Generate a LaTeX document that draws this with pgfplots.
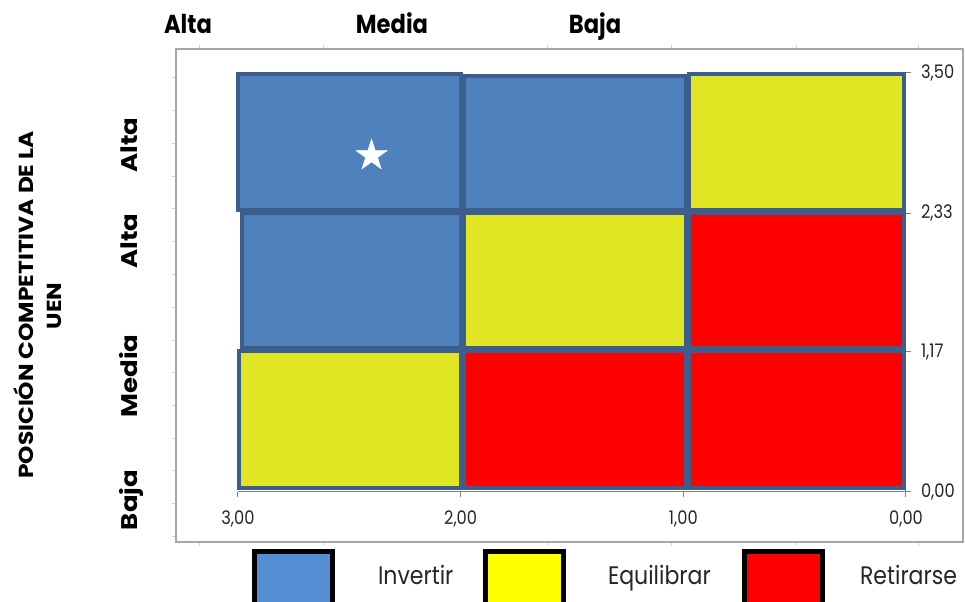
\documentclass[border=0pt]{standalone}
\usepackage{fontspec}
\setmainfont{Poppins}
\newfontfamily\sq[FakeStretch=0.87]{Poppins}
\usepackage{graphicx}
\usepackage{pgfplots}
\pgfplotsset{compat=1.18}

\definecolor{cblue}{HTML}{4F81BD}
\definecolor{cyel}{HTML}{E1E524}
\definecolor{cred}{HTML}{FF0000}
\definecolor{cbord}{HTML}{3B5E8C}
\definecolor{lblue}{HTML}{558ED5}
\definecolor{lyel}{HTML}{FFFF00}
\definecolor{framegray}{HTML}{A6A6A6}

\pgfdeclareplotmark{fstar}{%
\pgfpathmoveto{\pgfpoint{0pt}{\pgfplotmarksize}}%
\pgfpathlineto{\pgfpoint{0.225\pgfplotmarksize}{0.309\pgfplotmarksize}}%
\pgfpathlineto{\pgfpoint{0.951\pgfplotmarksize}{0.309\pgfplotmarksize}}%
\pgfpathlineto{\pgfpoint{0.363\pgfplotmarksize}{-0.118\pgfplotmarksize}}%
\pgfpathlineto{\pgfpoint{0.588\pgfplotmarksize}{-0.809\pgfplotmarksize}}%
\pgfpathlineto{\pgfpoint{0pt}{-0.382\pgfplotmarksize}}%
\pgfpathlineto{\pgfpoint{-0.588\pgfplotmarksize}{-0.809\pgfplotmarksize}}%
\pgfpathlineto{\pgfpoint{-0.363\pgfplotmarksize}{-0.118\pgfplotmarksize}}%
\pgfpathlineto{\pgfpoint{-0.951\pgfplotmarksize}{0.309\pgfplotmarksize}}%
\pgfpathlineto{\pgfpoint{-0.225\pgfplotmarksize}{0.309\pgfplotmarksize}}%
\pgfpathclose
\pgfusepathqfillstroke}

\pgfplotsset{cell/.style={forget plot, draw=cbord, line width=3pt, line join=miter, line cap=rect}}

\begin{document}
\begin{tikzpicture}
\path[use as bounding box] (0,0) rectangle (723.75pt,451.5pt);

% outer frame
\begin{axis}[at={(132pt,45pt)}, anchor=south west, scale only axis,
  width=590.25pt, height=369.75pt,
  xmin=176, xmax=963, ymin=49, ymax=542, y dir=reverse,
  axis line style={draw=framegray, line width=1.5pt},
  xtick={199,323,547,671,796,918},
  ytick={77.7,110.7,143.3,176,208.7,241.7,274.3,307,340,372.7,405.3,438,470.7,503.3,536},
  xtick pos=both, ytick pos=left, tick align=outside, major tick length=3pt,
  tick style={draw=black!18, line width=0.6pt},
  xticklabels={}, yticklabels={}]
\end{axis}

% main matrix
\begin{axis}[at={(178.5pt,82.5pt)}, anchor=south west, scale only axis,
  width=501pt, height=314.25pt,
  x dir=reverse, xmin=0, xmax=3, ymin=0, ymax=3.5, clip=false,
  axis x line*=bottom, axis y line*=right,
  axis line style={draw=gray, line width=0.75pt},
  xtick={0,1,2,3}, ytick={0,1.17,2.33,3.5},
  tick align=outside, major tick length=3.75pt,
  tick style={draw=gray, line width=0.75pt},
  /pgf/number format/fixed, /pgf/number format/fixed zerofill,
  /pgf/number format/precision=2, /pgf/number format/use comma,
  /pgf/number format/assume math mode=true,
  ticklabel style={font=\sq\fontsize{14}{16}\selectfont, text=black!85},
  xticklabel style={yshift=-7pt},
  yticklabel style={xshift=4pt},
  legend style={at={(axis description cs:0.021,-0.136)}, anchor=north west,
    draw=none, fill=none, inner sep=0pt, outer sep=0pt, column sep=0pt,
    nodes={inner sep=0pt, font=\sq\fontsize{19}{22}\selectfont, text=black!85}},
  legend columns=3, legend cell align=left]

% top row
\addplot[cell, fill=cblue] coordinates {(3.000,3.492) (1.999,3.492) (1.999,2.356) (3.000,2.356) (3.000,3.492)};
\addplot[cell, fill=cblue] coordinates {(1.985,3.475) (0.988,3.475) (0.988,2.356) (1.985,2.356) (1.985,3.475)};
\addplot[cell, fill=cyel] coordinates {(0.975,3.492) (0.009,3.492) (0.009,2.356) (0.975,2.356) (0.975,3.492)};
% middle row
\addplot[cell, fill=cblue] coordinates {(2.982,2.331) (1.999,2.331) (1.999,1.203) (2.982,1.203) (2.982,2.331)};
\addplot[cell, fill=cyel] coordinates {(1.985,2.331) (0.988,2.331) (0.988,1.203) (1.985,1.203) (1.985,2.331)};
\addplot[cell, fill=cred] coordinates {(0.975,2.331) (0.009,2.331) (0.009,1.203) (0.975,1.203) (0.975,2.331)};
% bottom row
\addplot[cell, fill=cyel] coordinates {(2.996,1.178) (1.999,1.178) (1.999,0.033) (2.996,0.033) (2.996,1.178)};
\addplot[cell, fill=cred] coordinates {(1.985,1.178) (0.988,1.178) (0.988,0.033) (1.985,0.033) (1.985,1.178)};
\addplot[cell, fill=cred] coordinates {(0.975,1.178) (0.009,1.178) (0.009,0.033) (0.975,0.033) (0.975,1.178)};
% star
\addplot[forget plot, only marks, mark=fstar, mark size=12.4pt, mark options={fill=white, draw=white, line width=0.3pt}] coordinates {(2.40,2.81)};

\addlegendimage{legend image code/.code={\draw[black, line width=3.75pt, fill=lblue] (1.875pt,-26.6pt) rectangle (60.375pt,18.375pt); \path[draw=none, fill=none] (0pt,0pt) rectangle (94.5pt,0.1pt);}}
\addlegendentry[text width=78.75pt, align=left]{Invertir}
\addlegendimage{legend image code/.code={\draw[black, line width=3.75pt, fill=lyel] (1.875pt,-26.6pt) rectangle (60.375pt,18.375pt); \path[draw=none, fill=none] (0pt,0pt) rectangle (93.75pt,0.1pt);}}
\addlegendentry[text width=100.5pt, align=left]{Equilibrar}
\addlegendimage{legend image code/.code={\draw[black, line width=3.75pt, fill=cred] (1.875pt,-26.6pt) rectangle (60.375pt,18.375pt); \path[draw=none, fill=none] (0pt,0pt) rectangle (88.5pt,0.1pt);}}
\addlegendentry{Retirarse}
\end{axis}

% category labels (top)
\node[anchor=base, inner sep=0pt] at (141pt,426pt) {\sq\bfseries\fontsize{19.5}{22}\selectfont Alta};
\node[anchor=base, inner sep=0pt] at (294pt,426pt) {\sq\bfseries\fontsize{19.5}{22}\selectfont Media};
\node[anchor=base, inner sep=0pt] at (446.25pt,426pt) {\sq\bfseries\fontsize{19.5}{22}\selectfont Baja};
% category labels (left, rotated)
\node[anchor=base, rotate=90, inner sep=0pt] at (102.75pt,342.75pt) {\scalebox{1}[0.87]{\bfseries\fontsize{19.5}{22}\selectfont Alta}};
\node[anchor=base, rotate=90, inner sep=0pt] at (102.75pt,270.75pt) {\scalebox{1}[0.87]{\bfseries\fontsize{19.5}{22}\selectfont Alta}};
\node[anchor=base, rotate=90, inner sep=0pt] at (102.75pt,169.5pt) {\scalebox{1}[0.87]{\bfseries\fontsize{19.5}{22}\selectfont Media}};
\node[anchor=base, rotate=90, inner sep=0pt] at (102.75pt,76.5pt) {\scalebox{1}[0.87]{\bfseries\fontsize{19.5}{22}\selectfont Baja}};
% axis title
\node[anchor=base, rotate=90, inner sep=0pt] at (24.75pt,222.75pt) {\scalebox{1}[0.87]{\bfseries\fontsize{17.5}{20}\selectfont POSICIÓN COMPETITIVA DE LA}};
\node[anchor=base, rotate=90, inner sep=0pt] at (46pt,222pt) {\scalebox{1}[0.87]{\bfseries\fontsize{17.5}{20}\selectfont UEN}};
\end{tikzpicture}
\end{document}
